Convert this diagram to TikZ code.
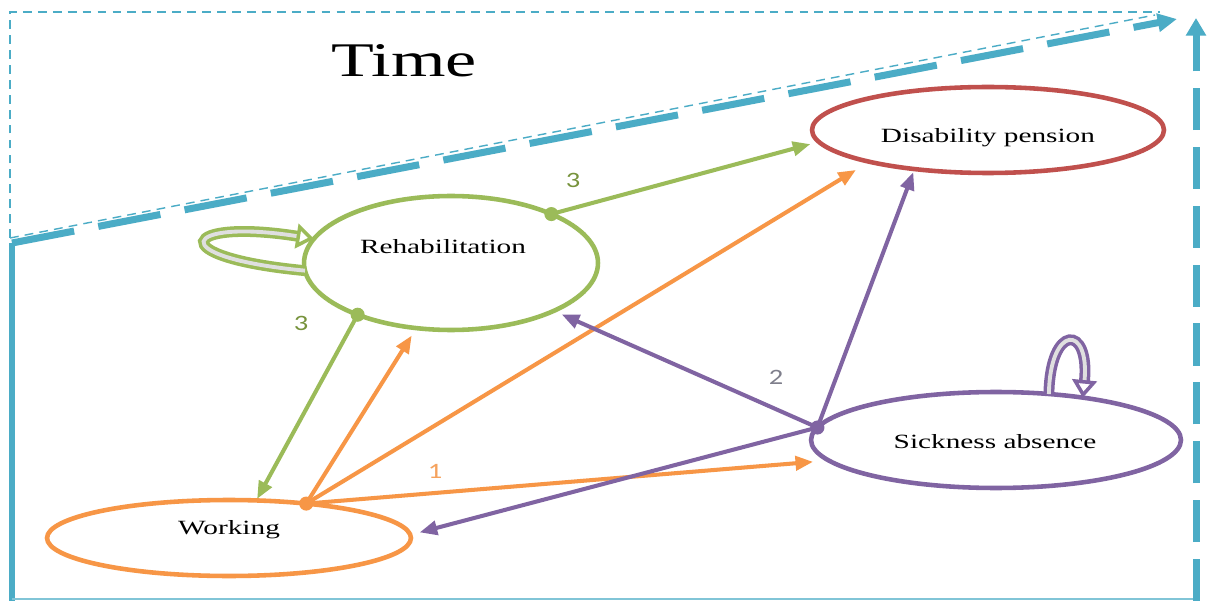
\documentclass[tikz,border=0pt]{standalone}
\usepackage{xcolor}
\usepackage{fontspec}
\newfontfamily\widefont[FakeStretch=1.45]{Liberation Serif}
\newfontfamily\numfont[FakeStretch=1.3]{Carlito}
\usepackage{tikz}
\usetikzlibrary{shapes, arrows.meta, positioning}

\definecolor{timeblue}{HTML}{4BACC6}
\definecolor{rehabgreen}{HTML}{9BBB59}
\definecolor{workorange}{HTML}{F79646}
\definecolor{sickpurple}{HTML}{8064A2}
\definecolor{pensionred}{HTML}{C0504D}
\definecolor{numgreen}{HTML}{77933C}
\definecolor{numorange}{HTML}{F5A25D}
\definecolor{numgray}{HTML}{7F7F8C}

\begin{document}
\begin{tikzpicture}[x=0.02cm, y=-0.02cm,
    state/.style={draw, ellipse, line width=2.6pt, inner sep=0pt, outer sep=0pt},
    statetext/.style={font=\fontsize{11.5}{13}\widefont, inner sep=0pt},
    numtext/.style={font=\fontsize{12.5}{14}\numfont, inner sep=0pt},
    dot/.style={circle, inner sep=0pt, minimum size=8pt},
    move/.style={line width=2.3pt, -{Triangle[length=10pt, width=8pt]}, shorten >=2pt},
    selfloop/.style={line width=2pt, double=gray!25, double distance=2.2pt, -{Triangle[open, length=10pt, width=14pt]}},
    thinframe/.style={timeblue, line width=0.8pt, dash pattern=on 5pt off 3.5pt},
    timeaxis/.style={timeblue, line width=4pt}
  ]
    \fill[white] (0,0) rectangle (1207,601);
    \useasboundingbox (0,0) rectangle (1207,601);

    \draw[thinframe] (10,238) -- (10,12) -- (1160,12);
    \draw[thinframe] (10,238) -- (1155,15);
    \draw[timeaxis, dash pattern=on 36pt off 14pt, -{Triangle[length=11pt, width=10pt]}] (12,243) -- (1177,19);
    \draw[timeblue, line width=3pt] (12,243) -- (12,601);
    \draw[timeblue!70, line width=1.2pt] (12,599) -- (1196,599);
    \draw[timeaxis, dash pattern=on 24pt off 9.5pt, -{Triangle[length=10pt, width=11pt]}] (1196,601) -- (1196,18);

    \node[font=\fontsize{27.5}{30}\widefont, inner sep=0pt] (time) at (404,61) {Time};

    \node[state, draw=rehabgreen, minimum width=5.88cm, minimum height=2.68cm] (rehab) at (451,263) {};
    \node[state, draw=pensionred, minimum width=7.04cm, minimum height=1.72cm] (pension) at (988,130) {};
    \node[state, draw=sickpurple, minimum width=7.4cm, minimum height=1.92cm] (sick) at (996,440) {};
    \node[state, draw=workorange, minimum width=7.28cm, minimum height=1.52cm] (work) at (229,538) {};

    \node[statetext] (rehabtext) at (443,247) {Rehabilitation};
    \node[statetext] (pensiontext) at (988,138) {Disability pension};
    \node[statetext] (sicktext) at (995,442) {Sickness absence};
    \node[statetext] (worktext) at (229,530) {Working};

    \node[dot, fill=rehabgreen] (rdotup) at (rehab.26) {};
    \node[dot, fill=rehabgreen] (rdotdown) at (rehab.209) {};
    \node[dot, fill=workorange] (wdot) at (work.24) {};
    \node[dot, fill=sickpurple] (sdot) at (sick.176) {};

    \draw[move, rehabgreen, shorten >=5pt] (rdotup.center) -- (pension.184);
    \draw[move, rehabgreen, shorten >=1pt] (rdotdown.center) -- (work.54);
    \draw[move, workorange, shorten >=5pt] (wdot.center) -- (rehab.242);
    \draw[move, workorange, shorten >=9pt] (wdot.center) -- (pension.195);
    \draw[move, workorange, shorten >=9pt] (wdot.center) -- (sick.187);
    \draw[move, sickpurple, shorten >=5pt] (sdot.center) -- (rehab.335);
    \draw[move, sickpurple] (sdot.center) -- (pension.208);
    \draw[move, sickpurple, shorten >=5.5pt] (sdot.center) -- (work.1);

    \draw[selfloop, draw=rehabgreen] (rehab.183) .. controls (160,257) and (182,218) .. (rehab.170);
    \draw[selfloop, draw=sickpurple] (sick.41) .. controls (1050,324) and (1090,324) .. (sick.26);

    \node[numtext, text=numgreen] (n3up) at (573,180) {3};
    \node[numtext, text=numgreen] (n3down) at (301,323) {3};
    \node[numtext, text=numorange] (n1) at (435,471) {1};
    \node[numtext, text=numgray] (n2) at (776,377) {2};
\end{tikzpicture}
\end{document}
